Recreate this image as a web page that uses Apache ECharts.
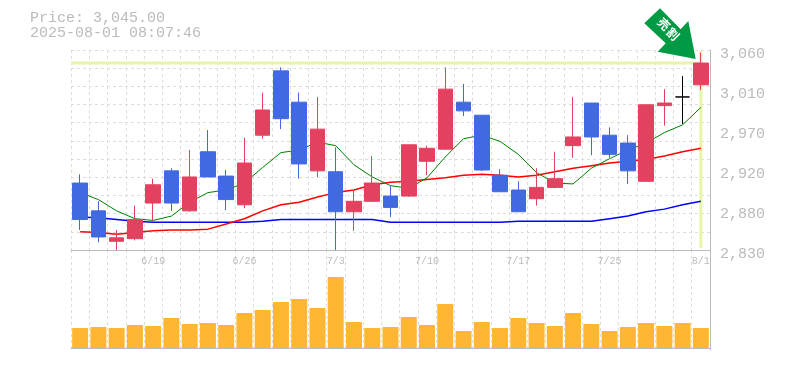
<!DOCTYPE html>
<html><head><meta charset="utf-8">
<style>html,body{margin:0;padding:0;background:#fff}#c{width:785px;height:370px}</style>
<script src="https://cdn.jsdelivr.net/npm/echarts@6/dist/echarts.min.js"></script>
</head><body><div id="c"></div>
<script>
const categories=['6/13','6/16','6/17','6/18','6/19','6/20','6/23','6/24','6/25','6/26','6/27','6/30','7/1','7/2','7/3','7/4','7/7','7/8','7/9','7/10','7/11','7/14','7/15','7/16','7/17','7/18','7/22','7/23','7/24','7/25','7/28','7/29','7/30','7/31','8/1'];
const shownDates=['6/19','6/26','7/3','7/10','7/17','7/25','8/1'];
const opens =[2907,2875,2840,2843,2884,2921,2875,2943,2915,2882,2962,3036,3000,2921,2920,2874,2886,2892,2892,2932,2946,3000,2985,2916,2899,2889,2902,2950,2999,2962,2953,2909,2996,3006,3020];
const closes=[2865,2845,2844,2865,2905,2884,2914,2914,2888,2930,2991,2981,2929,2969,2874,2886,2907,2879,2951,2947,3015,2990,2922,2897,2874,2902,2912,2960,2960,2940,2921,2997,2999,3006,3045];
const lows  =[2853,2839,2830,2841,2864,2875,2874,2914,2876,2878,2958,2969,2912,2914,2830,2852,2886,2868,2891,2916,2945,2984,2921,2897,2874,2881,2901,2936,2939,2936,2906,2909,2973,2975,3014];
const highs =[2917,2886,2853,2881,2912,2924,2945,2968,2922,2959,3011,3040,3011,3006,2948,2899,2938,2904,2951,2950,3040,3021,2985,2923,2909,2924,2943,3006,2999,2971,2962,2997,3015,3030,3057];
const ma5 =[2896,2888,2875,2866,2864,2869,2885,2896,2899,2907,2925,2942,2945,2954,2950,2928,2914,2904,2901,2913,2937,2958,2962,2955,2940,2919,2907,2906,2924,2935,2945,2953,2965,2974,2994];
const ma25=[2851,2850,2848,2850,2852,2853,2853,2854,2860,2866,2875,2882,2885,2891,2896,2899,2905,2908,2909,2911,2913,2916,2917,2916,2914,2916,2920,2924,2927,2930,2932,2934,2938,2943,2947];
const ma75=[2868,2867,2865,2863,2862,2862,2862,2862,2862,2862,2863,2865,2865,2865,2865,2865,2865,2862,2862,2862,2862,2862,2862,2862,2863,2863,2863,2863,2863,2866,2869,2874,2877,2882,2886];
const volumes=[20,21,20,23,22,30,24,25,23,35,38,46,49,40,71,26,20,21,31,23,44,17,26,20,30,25,22,35,24,17,21,25,22,25,20];
const lastPrice=3045;
const priceTicks=[3060,3014,2968,2922,2876,2830];
const gridValues=Array.from({length:12},(_,i)=>3060-i*230/11);
const RED='#E2425F',BLUE='#4169E1',GRAY='#bbbbbb',GRID='#dddddd';
const candle=categories.map((c,i)=>{
  const item={value:[opens[i],closes[i],lows[i],highs[i]]};
  if(opens[i]===closes[i])item.itemStyle={color:'#000',color0:'#000',borderColor:'#000',borderColor0:'#000',borderColorDoji:'#000'};
  return item;
});
const vSplit={show:true,interval:0,lineStyle:{color:GRID,type:[3,3],width:1}};
const chart=echarts.init(document.getElementById('c'),null,{renderer:'canvas'});
chart.setOption({
  animation:false,backgroundColor:'#fff',
  grid:[{left:71,right:75,top:50,height:200},{left:71,right:75,top:250,height:100}],
  xAxis:[
    {type:'category',gridIndex:0,data:categories,boundaryGap:true,axisLine:{lineStyle:{color:GRAY,width:1}},axisTick:{show:false},splitLine:vSplit,
     axisLabel:{interval:0,margin:6,fontFamily:'Liberation Mono',fontSize:10,color:GRAY,formatter:v=>shownDates.includes(v)?v:''}},
    {type:'category',gridIndex:1,data:categories,boundaryGap:true,axisLine:{lineStyle:{color:GRAY,width:1}},axisTick:{show:false},splitLine:vSplit,axisLabel:{show:false}}
  ],
  yAxis:[
    {type:'value',gridIndex:0,min:2830,max:3060,position:'right',
     axisLine:{show:true,lineStyle:{color:GRAY,width:1}},axisTick:{show:false,customValues:gridValues},
     splitLine:{show:true,lineStyle:{color:GRID,type:[3,3],width:1}},
     axisLabel:{customValues:priceTicks,margin:10,fontFamily:'Liberation Mono',fontSize:15,color:GRAY,verticalAlign:'top',lineHeight:8,
       showMinLabel:true,showMaxLabel:true,formatter:v=>(Math.round(v/10)*10).toLocaleString('en-US')}},
    {type:'value',gridIndex:1,min:-2,max:98,position:'right',axisLine:{show:true,lineStyle:{color:GRAY,width:1}},axisTick:{show:false},splitLine:{show:false},axisLabel:{show:false}}
  ],
  series:[
    {type:'custom',name:'last',xAxisIndex:0,yAxisIndex:0,z:1,data:[[categories.length-1,lastPrice]],clip:false,silent:true,
     renderItem:(p,api)=>{
       const pt=api.coord([api.value(0),api.value(1)]);const w=api.size([1,0])[0];
       const left=api.coord([0,0])[0]-w/2;const r=p.coordSys;
       const st={stroke:'#E6F5A8',lineWidth:3,fill:null};
       return {type:'group',children:[
         {type:'line',shape:{x1:left,y1:pt[1],x2:pt[0],y2:pt[1]},style:st},
         {type:'line',shape:{x1:pt[0],y1:r.y+1,x2:pt[0],y2:r.y+r.height-2},style:st}]};
     }},
    {type:'line',name:'MA75',data:ma75,xAxisIndex:0,yAxisIndex:0,showSymbol:false,z:2,lineStyle:{color:'#0000ff',width:1.5}},
    {type:'line',name:'MA25',data:ma25,xAxisIndex:0,yAxisIndex:0,showSymbol:false,z:2,lineStyle:{color:'#ff0000',width:1.5}},
    {type:'line',name:'MA5',data:ma5,xAxisIndex:0,yAxisIndex:0,showSymbol:false,z:2,lineStyle:{color:'#008000',width:1}},
    {type:'candlestick',name:'Price',data:candle,xAxisIndex:0,yAxisIndex:0,barWidth:15,z:3,
     itemStyle:{color:RED,color0:BLUE,borderColor:RED,borderColor0:BLUE,borderWidth:1}},
    {type:'bar',name:'Volume',data:volumes,xAxisIndex:1,yAxisIndex:1,barWidth:16,z:3,itemStyle:{color:'#FFB733'}}
  ],
  graphic:[
    {type:'text',left:30,top:11,style:{text:'Price: 3,045.00\n2025-08-01 08:07:46',fill:GRAY,font:'15px "Liberation Mono"',lineHeight:15}},
    {type:'polygon',shape:{points:[[660,8.3],[680.7,29.3],[688.3,21],[695.7,59],[657.7,51.7],[665.7,43.3],[644.3,23.3]]},style:{fill:'#009944'},z:10},
    {type:'text',x:664,y:24,rotation:-Math.PI/4,z:11,style:{text:'売',fill:'#fff',font:'bold 12px "Noto Sans CJK JP"',align:'center',verticalAlign:'middle'}},
    {type:'text',x:673,y:34,rotation:-Math.PI/4,z:11,style:{text:'割',fill:'#fff',font:'bold 12px "Noto Sans CJK JP"',align:'center',verticalAlign:'middle'}}
  ]
});
</script></body></html>
